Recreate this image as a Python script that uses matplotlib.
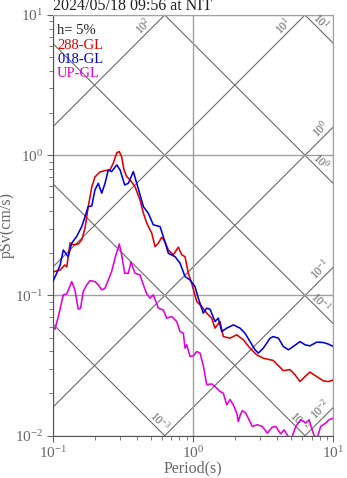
import numpy as np
import matplotlib
matplotlib.use('Agg')
import matplotlib.pyplot as plt

plt.rcParams['font.family'] = ['Liberation Serif', 'DejaVu Serif']
plt.rcParams['mathtext.fontset'] = 'custom'
plt.rcParams['mathtext.rm'] = 'Liberation Serif'
plt.rcParams['mathtext.it'] = 'Liberation Serif:italic'
plt.rcParams['mathtext.default'] = 'regular'

title = "2024/05/18 09:56 at NIT"
damping_label = "h= 5%"
series_names = ["288-GL", "018-GL", "UP-GL"]
series_colors = ["#e00000", "#0000e0", "#e000e0"]

period_288 = [0.100, 0.113, 0.122, 0.126, 0.133, 0.140, 0.152, 0.161, 0.170, 0.179,
              0.190, 0.200, 0.217, 0.236, 0.256, 0.270, 0.286, 0.298, 0.310, 0.322,
              0.337, 0.356, 0.386, 0.419, 0.443, 0.468, 0.508, 0.536, 0.566, 0.598,
              0.631, 0.667, 0.724, 0.786, 0.831, 0.877, 0.926, 0.979, 1.063, 1.153,
              1.252, 1.359, 1.435, 1.557, 1.644, 1.835, 2.049, 2.283, 2.549, 2.844,
              3.17, 3.54, 3.73, 4.06, 4.40, 4.91, 5.33, 5.79, 6.28, 6.82,
              7.62, 8.49, 9.21, 10.0]
sv_288 = [0.147, 0.152, 0.165, 0.160, 0.237, 0.230, 0.233, 0.249, 0.303, 0.428,
          0.594, 0.700, 0.760, 0.777, 0.786, 0.877, 1.04, 1.064, 0.973, 0.786,
          0.704, 0.667, 0.597, 0.480, 0.386, 0.328, 0.278, 0.223, 0.236, 0.260,
          0.242, 0.211, 0.195, 0.221, 0.195, 0.189, 0.144, 0.122, 0.0905, 0.0834,
          0.0748, 0.0689, 0.0585, 0.0652, 0.0509, 0.0496, 0.0524, 0.0483, 0.0421, 0.0377,
          0.0357, 0.0348, 0.0344, 0.0316, 0.0291, 0.0296, 0.0272, 0.0243, 0.0264, 0.0284,
          0.0264, 0.0246, 0.0243, 0.0250]

period_018 = [0.100, 0.1068, 0.113, 0.119, 0.126, 0.129, 0.1366, 0.148, 0.161, 0.170,
              0.179, 0.190, 0.200, 0.2113, 0.2235, 0.236, 0.249, 0.263, 0.286, 0.302,
              0.326, 0.346, 0.3755, 0.397, 0.443, 0.480, 0.521, 0.582, 0.614, 0.667,
              0.745, 0.808, 0.877, 0.952, 1.033, 1.091, 1.184, 1.252, 1.322, 1.435,
              1.514, 1.601, 1.739, 1.937, 2.163, 2.348, 2.549, 2.767, 2.92, 3.17,
              3.54, 3.73, 4.06, 4.40, 4.78, 5.19, 5.79, 6.28, 6.82, 7.62,
              8.49, 9.21, 10.0]
sv_018 = [0.1256, 0.144, 0.165, 0.211, 0.195, 0.189, 0.236, 0.263, 0.310, 0.365,
          0.430, 0.435, 0.566, 0.631, 0.536, 0.631, 0.786, 0.764, 0.853, 0.786,
          0.614, 0.631, 0.764, 0.631, 0.430, 0.386, 0.319, 0.310, 0.263, 0.200,
          0.189, 0.170, 0.1364, 0.129, 0.1157, 0.0954, 0.0748, 0.0812, 0.0799, 0.0652,
          0.0689, 0.0553, 0.0585, 0.0617, 0.0585, 0.0538, 0.0469, 0.0410, 0.0388, 0.0421,
          0.0496, 0.0509, 0.0496, 0.0433, 0.0410, 0.0433, 0.0469, 0.0445, 0.0437, 0.0465,
          0.0462, 0.0450, 0.0433]

period_up = [0.100, 0.1038, 0.1096, 0.119, 0.126, 0.1366, 0.144, 0.152, 0.158, 0.165,
             0.1747, 0.1845, 0.200, 0.2113, 0.2235, 0.236, 0.249, 0.263, 0.278, 0.298,
             0.310, 0.326, 0.346, 0.3614, 0.386, 0.419, 0.443, 0.468, 0.4937, 0.521,
             0.566, 0.614, 0.6494, 0.705, 0.765, 0.808, 0.853, 0.877, 0.902, 0.952,
             1.005, 1.063, 1.122, 1.184, 1.252, 1.359, 1.435, 1.557, 1.644, 1.739,
             1.835, 1.937, 2.049, 2.104, 2.163, 2.245, 2.375, 2.647, 2.873, 3.12,
             3.385, 3.67, 3.886, 4.22, 4.45, 4.83, 5.08, 5.40, 5.86, 6.36,
             6.71, 7.29, 7.69, 8.13, 8.83, 9.31, 10.0]
sv_up = [0.060, 0.0575, 0.0707, 0.101, 0.1026, 0.1256, 0.1096, 0.0799, 0.0812, 0.1066,
         0.119, 0.1277, 0.1256, 0.119, 0.1096, 0.1127, 0.129, 0.148, 0.1845, 0.233,
         0.195, 0.144, 0.144, 0.1727, 0.144, 0.140, 0.119, 0.1026, 0.0957, 0.101,
         0.0812, 0.0789, 0.0689, 0.0707, 0.0652, 0.0553, 0.0538, 0.0421, 0.0445, 0.0367,
         0.0371, 0.0398, 0.0388, 0.0316, 0.0231, 0.0234, 0.0224, 0.0207, 0.0201, 0.0166,
         0.0181, 0.0166, 0.0145, 0.0126, 0.0139, 0.0151, 0.0145, 0.01164, 0.01197, 0.01164,
         0.01043, 0.0115, 0.01164, 0.0103, 0.0110, 0.0097, 0.0098, 0.01164, 0.0130, 0.0123,
         0.0130, 0.0100, 0.0097, 0.01164, 0.0123, 0.0130, 0.01335]

disp_levels = [1e-3, 1e-2, 1e-1, 1e0, 1e1]      # cm
acc_levels = [1e-2, 1e-1, 1e0, 1e1, 1e2]        # cm/s^2
t_min, t_max = 0.1, 10.0
sv_min, sv_max = 0.01, 10.0

fig = plt.figure(figsize=(3.47, 4.78), dpi=100)
ax = fig.add_axes([0.1519, 0.0885, 0.8087, 0.8801])
ax.set_xscale('log')
ax.set_yscale('log')
ax.set_xlim(t_min, t_max)
ax.set_ylim(sv_min, sv_max)

diag_color = '#6a6a6a'
lab_color = '#606060'
tt = np.logspace(-1, 1, 60)
s2 = np.sqrt(2)
for A in acc_levels:
    ax.plot(tt, A * tt / (2 * np.pi), color=diag_color, lw=0.8, zorder=1)
    sv_r = A * t_max / (2 * np.pi)
    if sv_r <= sv_max:
        end = (t_max, sv_r); along, perp = 11, 7.5
    else:
        end = (2 * np.pi * sv_max / A, sv_max); along, perp = 23, 7
    dx = (-along - perp) / s2
    dy = (-along + perp) / s2
    ax.annotate(r'$10^{%d}$' % round(np.log10(A)), xy=end, xytext=(dx, dy),
                textcoords='offset pixels', rotation=45, rotation_mode='anchor',
                ha='center', va='center', fontsize=8.5, color=lab_color,
                annotation_clip=False)
for D in disp_levels:
    ax.plot(tt, 2 * np.pi * D / tt, color=diag_color, lw=0.8, zorder=1)
    sv_r = 2 * np.pi * D / t_max
    if sv_r >= sv_min:
        end = (t_max, sv_r); along, perp = 24, 6.5
    else:
        end = (2 * np.pi * D / sv_min, sv_min); along, perp = 14, 6.5
    dx = (-along + perp) / s2
    dy = (along + perp) / s2
    ax.annotate(r'$10^{%d}$' % round(np.log10(D)), xy=end, xytext=(dx, dy),
                textcoords='offset pixels', rotation=-45, rotation_mode='anchor',
                ha='center', va='center', fontsize=8.5, color=lab_color,
                annotation_clip=False)

ax.grid(True, which='major', color='#a0a0a0', lw=1.0, zorder=0)

for per, sv, col in zip([period_288, period_018, period_up],
                        [sv_288, sv_018, sv_up], series_colors):
    ax.plot(per, sv, color=col, lw=1.15, zorder=3)

ax.text(0.016, 0.964, damping_label, transform=ax.transAxes, fontsize=10.5,
        color='#222222', va='center', ha='left')
for i, (name, col) in enumerate(zip(series_names, series_colors)):
    ax.text(0.016, [0.9287, 0.8954, 0.862][i], name, transform=ax.transAxes,
            fontsize=10.5, color=col, va='center', ha='left')

for side in ['left', 'bottom']:
    ax.spines[side].set_color('#555555')
for side in ['top', 'right']:
    ax.spines[side].set_color('#a0a0a0')
ax.tick_params(which='both', direction='out', color='#666666', labelcolor='#666666',
               labelsize=11, pad=3)
ax.tick_params(which='major', length=4)
ax.tick_params(which='minor', length=3)

ax.set_xlabel('Period(s)', color='#666666', fontsize=11.5)
ax.set_ylabel('pSv(cm/s)', color='#666666', fontsize=11.5)
ax.xaxis.set_label_coords(0.5, -0.058)
ax.yaxis.set_label_coords(-0.134, 0.5)

fig.text(53 / 347, 1 - 10.5 / 478, title, fontsize=11.5, color='#222222',
         ha='left', va='baseline')

fig.savefig('out.png', dpi=100)
